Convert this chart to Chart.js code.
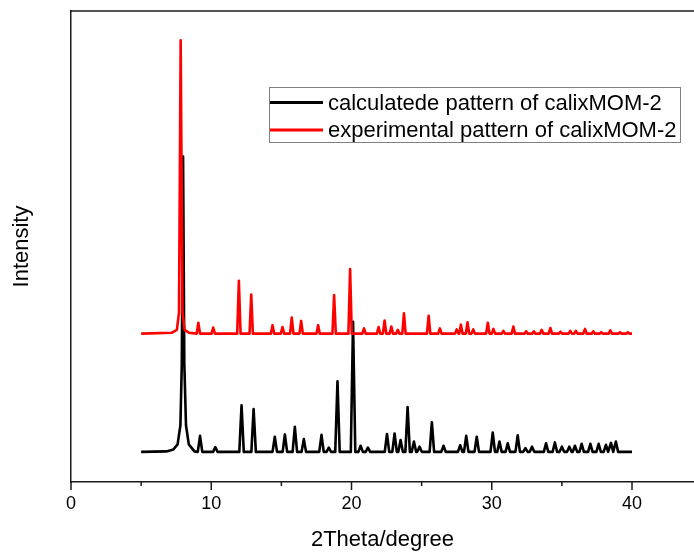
<!DOCTYPE html>
<html>
<head>
<meta charset="utf-8">
<script src="https://cdn.jsdelivr.net/npm/chart.js@4/dist/chart.umd.min.js"></script>
<style>
html,body{margin:0;padding:0;background:#fff;}
#wrap{width:694px;height:552px;}
</style>
</head>
<body>
<div id="wrap"><canvas id="xrd" width="694" height="552"></canvas></div>
<script>
'use strict';

// 2theta (deg) and intensity (arb. units, axis 0-100)
const seriesNames=['calculatede pattern of calixMOM-2','experimental pattern of calixMOM-2'];
const xTickValues=[0,10,20,30,40];
const xMinorValues=[5,15,25,35];
const thetaEnd=40;

// calculated pattern (black)
const calcBase=6.4;
const calcMainTheta=[5,6.8,7.3,7.6,7.8,7.9,7.99,8.08,8.2,8.4,8.8];
const calcMainI=[6.4,6.5,6.9,8.0,12,25,69.1,25,12,8.0,6.5];
const calcPeakTheta=[9.2,10.29,12.16,13.02,14.53,15.25,15.96,16.6,17.86,18.38,
  19.0,20.11,20.65,21.17,22.53,23.07,23.5,24.0,24.45,24.85,
  25.73,26.56,27.75,28.18,28.93,30.07,30.55,31.14,31.85,32.4,
  32.87,33.87,34.5,35.0,35.53,35.93,36.41,37.03,37.62,38.14,
  38.5,38.85];
const calcPeakI=[9.8,7.4,16.3,15.5,9.6,10.1,11.7,9.1,10.0,7.3,
  21.4,34.0,7.7,7.3,10.2,10.3,8.9,15.9,8.6,7.5,
  12.7,7.7,7.8,9.8,9.6,10.5,8.6,8.2,9.9,7.2,
  7.5,8.2,8.4,7.5,7.5,7.7,8.1,8.1,8.1,7.9,
  8.3,8.6];

// experimental pattern (red)
const exptBase=31.5;
const exptMainTheta=[5,7.2,7.55,7.7,7.82,7.95,8.1,8.4];
const exptMainI=[31.5,31.7,32.3,36,93.8,36,32.3,31.7];
const exptPeakTheta=[9.08,10.14,11.97,12.85,14.37,15.08,15.74,16.41,17.62,18.76,
  19.9,20.89,21.93,22.36,22.84,23.3,23.74,25.5,26.3,27.5,
  27.8,28.27,28.68,29.72,30.12,30.83,31.54,32.45,33.0,33.56,
  34.18,34.9,35.6,36.0,36.65,37.24,37.8,38.45,39.15,39.7];
const exptPeakI=[33.8,32.8,42.7,39.8,33.3,32.9,34.9,34.2,33.3,39.7,
  45.2,32.6,32.9,34.3,33.0,32.3,35.8,35.3,32.6,32.4,
  33.4,33.9,32.4,33.8,32.5,32.1,33.0,32.0,32.0,32.3,
  32.7,31.9,32.1,32.1,32.5,32.0,31.8,32.2,31.8,31.8];

const FONT='"Liberation Sans", Arial, sans-serif';
const AXIS_COLOR='#1a1a1a';

function buildPattern(mainTheta,mainI,peakTheta,peakI,base,halfWidth){
  const pts=mainTheta.map((x,i)=>({x,y:mainI[i]}));
  peakTheta.forEach((t,i)=>{
    pts.push({x:t-halfWidth,y:base},{x:t,y:peakI[i]},{x:t+halfWidth,y:base});
  });
  pts.push({x:thetaEnd,y:base});
  return pts;
}

const calcData=buildPattern(calcMainTheta,calcMainI,calcPeakTheta,calcPeakI,calcBase,0.16);
const exptData=buildPattern(exptMainTheta,exptMainI,exptPeakTheta,exptPeakI,exptBase,0.12);

// frame top line, tick marks and the boxed legend inside the plot
const framePlugin={
  id:'frame',
  afterDraw(chart){
    const {ctx,chartArea:a,scales:{x}}=chart;
    ctx.save();
    ctx.strokeStyle=AXIS_COLOR;ctx.lineWidth=1.5;
    ctx.beginPath();ctx.moveTo(a.left,a.top);ctx.lineTo(a.right,a.top);ctx.stroke();
    xTickValues.concat(xMinorValues).forEach(v=>{
      const px=x.getPixelForValue(v);
      const len=xTickValues.includes(v)?8:4;
      ctx.beginPath();ctx.moveTo(px,a.bottom);ctx.lineTo(px,a.bottom+len);ctx.stroke();
    });

    // legend
    ctx.strokeStyle='#808080';ctx.lineWidth=1;
    ctx.strokeRect(269.5,87.5,411,55);
    const colors=['#000','#ff0000'];
    const rows=[102.5,130];
    ctx.font='22px '+FONT;ctx.textBaseline='middle';ctx.fillStyle='#000';
    seriesNames.forEach((name,i)=>{
      ctx.strokeStyle=colors[i];ctx.lineWidth=3;
      ctx.beginPath();ctx.moveTo(270,rows[i]);ctx.lineTo(323,rows[i]);ctx.stroke();
      ctx.fillText(name,328,rows[i]+1);
    });
    ctx.restore();
  }
};

new Chart(document.getElementById('xrd'),{
  type:'line',
  data:{
    datasets:[
      {label:seriesNames[0],data:calcData,borderColor:'#000',borderWidth:2.6,order:1},
      {label:seriesNames[1],data:exptData,borderColor:'#ff0000',borderWidth:2.6,order:0},
    ],
  },
  options:{
    responsive:false,
    animation:false,
    devicePixelRatio:1,
    elements:{point:{radius:0},line:{tension:0,borderJoinStyle:'round'}},
    layout:{padding:{left:5,top:11,right:0,bottom:0}},
    plugins:{legend:{display:false},tooltip:{enabled:false}},
    scales:{
      x:{
        type:'linear',min:0,max:44.42,
        afterBuildTicks:(s)=>{s.ticks=xTickValues.map(v=>({value:v}));},
        afterFit:(s)=>{s.height=70;},
        grid:{display:true,drawOnChartArea:false,drawTicks:false},
        border:{display:true,color:AXIS_COLOR,width:1.5},
        ticks:{color:'#000',font:{family:FONT,size:18},padding:11,maxRotation:0},
        title:{display:true,text:'2Theta/degree',color:'#000',
          font:{family:FONT,size:22,lineHeight:1},padding:{top:0,bottom:1}},
      },
      y:{
        type:'linear',min:0,max:100,
        afterFit:(s)=>{s.width=66;},
        grid:{display:true,drawOnChartArea:false,drawTicks:false},
        border:{display:true,color:AXIS_COLOR,width:1.5},
        ticks:{display:false},
        title:{display:true,text:'Intensity',color:'#000',
          font:{family:FONT,size:22,lineHeight:1.2},padding:{top:4,bottom:4}},
      },
    },
  },
  plugins:[framePlugin],
});
</script>
</body>
</html>
